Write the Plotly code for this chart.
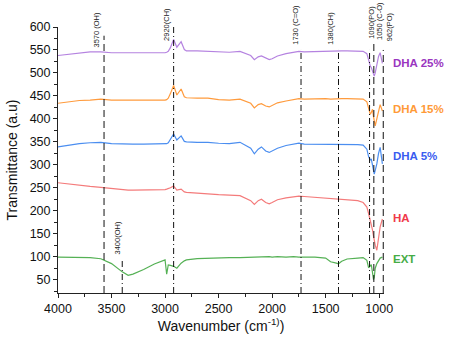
import plotly.graph_objects as go

# FTIR spectra (wavenumber in cm-1, transmittance offset per sample)
wavenumber = [4000, 3900, 3800, 3700, 3600, 3500, 3400, 3345, 3300, 3200, 3100, 3000,
              2985, 2970, 2950, 2920, 2890, 2850, 2820, 2800, 2700, 2600, 2500, 2400,
              2300, 2200, 2166, 2130, 2100, 2060, 2027, 2000, 1950, 1870, 1800, 1750,
              1700, 1600, 1500, 1454, 1400, 1380, 1350, 1300, 1200, 1150, 1115, 1099,
              1083, 1074, 1062, 1053, 1046, 1037, 1022, 1006, 991, 970]

dha25 = [538, 541, 544, 546, 546, 544, 544, 544, 544, 543, 543, 544,
         545, 547, 555, 573, 556, 568, 551, 548, 548, 547, 545, 545,
         547, 538, 529, 535, 537, 532, 529, 531, 537, 542, 544, 547,
         546, 547, 548, 547, 548, 548, 548, 548, 548, 547, 542, 525,
         515, 512, 505, 497, 493, 500, 520, 536, 544, 521]

dha15 = [434, 437, 440, 441, 443, 441, 441, 441, 441, 440, 440, 441,
         442, 445, 455, 473, 452, 465, 448, 446, 445, 445, 442, 441,
         443, 434, 424, 431, 433, 428, 426, 429, 435, 439, 441, 444,
         443, 444, 444, 443, 444, 444, 444, 444, 444, 443, 437, 422,
         410, 414, 421, 405, 395, 385, 400, 420, 431, 417]

dha5 = [339, 343, 346, 348, 349, 346, 345, 345, 345, 345, 345, 345,
        346, 348, 355, 367, 354, 363, 351, 350, 349, 349, 347, 346,
        349, 336, 324, 334, 339, 330, 327, 330, 336, 342, 344, 347,
        345, 345, 345, 345, 345, 345, 345, 345, 344, 343, 334, 318,
        310, 313, 300, 285, 280, 288, 302, 325, 338, 302]

ha = [261, 258, 255, 253, 251, 248, 246, 245, 245, 245, 245, 246,
      247, 248, 250, 254, 245, 247, 241, 240, 238, 236, 235, 234,
      233, 222, 214, 222, 225, 218, 215, 218, 224, 228, 230, 232,
      231, 229, 228, 227, 226, 226, 225, 224, 222, 218, 208, 194,
      180, 169, 158, 145, 135, 125, 114, 140, 165, 182]

ext = [99, 99, 99, 98, 95.5, 85, 67, 59.5, 62, 72, 84, 93,
       62, 82, 81, 79, 75, 86, 91, 93, 96, 97, 98, 98,
       98, 99, 99, 99, 99, 99, 100, 99, 100, 99, 100, 99,
       99, 99, 97, 89, 86, 84.5, 90, 95, 97, 98, 92, 76,
       80, 83, 65, 50, 55, 75, 85, 93, 97, 99]

series_names = ["DHA 25%", "DHA 15%", "DHA 5%", "HA", "EXT"]
series_values = [dha25, dha15, dha5, ha, ext]
line_colors = ["#b583e0", "#ff9b3d", "#4b8ef0", "#f47b7b", "#55b155"]
label_colors = ["#9a36c0", "#ff9a38", "#3a5cf0", "#f03a4a", "#46ac46"]
label_levels = [522, 421, 319, 185, 95]

# Band assignments marked with vertical guide lines
band_positions = [3570, 3400, 2920, 1730, 1380, 1090, 1050, 962]
band_labels = ["3570 (OH)", "3400(OH)", "2920(CH)", "1730 (C=O)",
               "1380(CH)", "1090(PO)", "1050 (C-O)", "962(PO)"]
band_tops = [581, 97, 600, 550, 550, 550, 565, 550]
band_dash = ["7px,4px", "6px,3px,1px,3px", "6px,3px,1px,3px", "6px,3px,1px,3px",
             "6px,3px,1px,3px", "6px,3px,1px,3px", "7px,4px", "7px,4px"]
band_label_y = [550, 101, 565, 557, 557, 570, 568, 564]
band_label_shift = [-7.5, -4.5, -7.3, -5, -8, 2, 5.5, 6]

Y_MIN, Y_MAX = 21, 600
X_LEFT, X_RIGHT = 4000, 955

fig = go.Figure()

for name, vals, col in zip(series_names, series_values, line_colors):
    fig.add_trace(go.Scatter(x=wavenumber, y=vals, mode="lines", name=name,
                             line=dict(color=col, width=1.2), showlegend=False))

for pos, top, dash in zip(band_positions, band_tops, band_dash):
    fig.add_shape(type="line", xref="x", yref="y", x0=pos, x1=pos, y0=Y_MIN, y1=top,
                  line=dict(color="#111111", width=1, dash=dash))

for pos, text, ly, dx in zip(band_positions, band_labels, band_label_y, band_label_shift):
    fig.add_annotation(x=pos, y=ly, xref="x", yref="y", text=text, showarrow=False,
                       textangle=-90, xanchor="center", yanchor="bottom", xshift=dx,
                       font=dict(family="Liberation Sans, Arial", size=7.5, color="#222222"))

for name, lvl, col in zip(series_names, label_levels, label_colors):
    fig.add_annotation(x=1, y=lvl, xref="paper", yref="y", text="<b>%s</b>" % name,
                       showarrow=False, xanchor="left", yanchor="middle", xshift=7,
                       font=dict(family="Liberation Sans, Arial", size=11.5, color=col))

axis_font = dict(family="Liberation Sans, Arial", size=12.5, color="#111111")
title_font = dict(family="Liberation Sans, Arial", size=14, color="#111111")

fig.update_layout(
    width=462, height=343,
    margin=dict(l=57, r=78, t=27, b=48),
    paper_bgcolor="white", plot_bgcolor="white",
    xaxis=dict(range=[X_LEFT, X_RIGHT], tick0=0, dtick=500, ticks="outside", ticklen=4,
               tickcolor="#222222", showline=True, linecolor="#222222", linewidth=1,
               showgrid=False, zeroline=False, tickfont=axis_font,
               minor=dict(dtick=250, tick0=0, ticks="outside", ticklen=3, tickcolor="#222222",
                          showgrid=False),
               title=dict(text="Wavenumber (cm<sup>-1)</sup>)", font=title_font, standoff=5)),
    yaxis=dict(range=[Y_MIN, Y_MAX], tick0=0, dtick=50, ticks="outside", ticklen=4,
               tickcolor="#222222", showline=True, linecolor="#222222", linewidth=1,
               showgrid=False, zeroline=False, tickfont=axis_font,
               minor=dict(dtick=25, tick0=0, ticks="outside", ticklen=3, tickcolor="#222222",
                          showgrid=False),
               title=dict(text="Transmittance (a.u)", font=title_font, standoff=8)),
)

fig.write_html("out.html")
